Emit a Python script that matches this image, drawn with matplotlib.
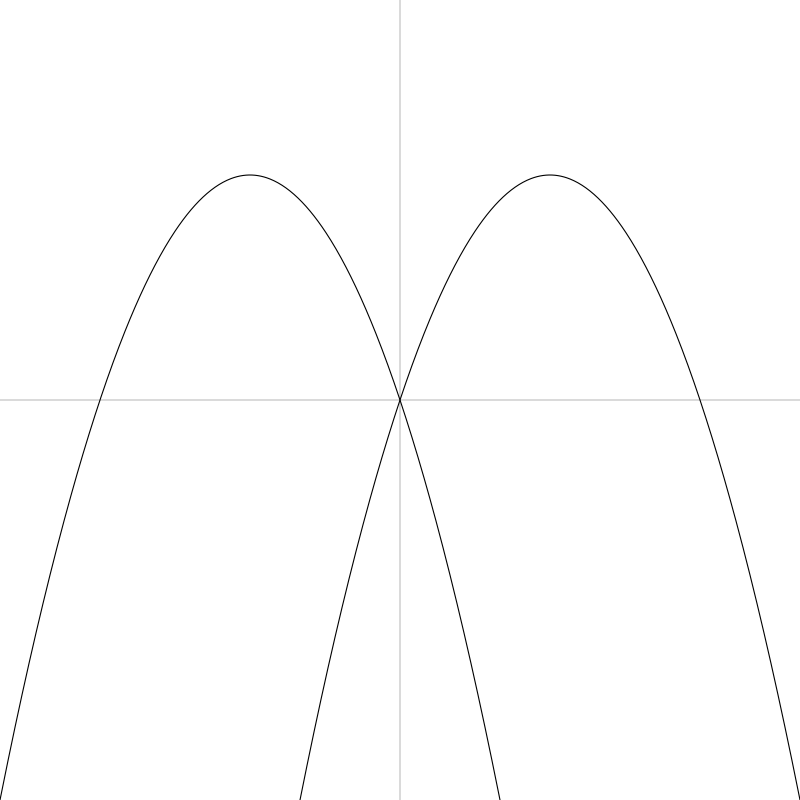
import numpy as np
import matplotlib
matplotlib.use("Agg")
import matplotlib.pyplot as plt

# parabolas y = a*x^2 + b*x + c
left_coeffs = [-1.0, -3.0, 0.0]
right_coeffs = [-1.0, 3.0, 0.0]
x_range = [-4, 4]
y_range = [-4, 4]

fig = plt.figure(figsize=(8, 8), dpi=100)
ax = fig.add_axes([0, 0, 1, 1])

xs = np.linspace(x_range[0], x_range[1], 801)
ax.axhline(0, color="#d3d3d3", lw=1.2, zorder=1)
ax.axvline(0, color="#d3d3d3", lw=1.2, zorder=1)
ax.plot(xs, np.polyval(left_coeffs, xs), color="black", lw=0.8, zorder=2)
ax.plot(xs, np.polyval(right_coeffs, xs), color="black", lw=0.8, zorder=2)

ax.set_xlim(x_range)
ax.set_ylim(y_range)
ax.axis("off")

fig.savefig("out.png", dpi=100)
